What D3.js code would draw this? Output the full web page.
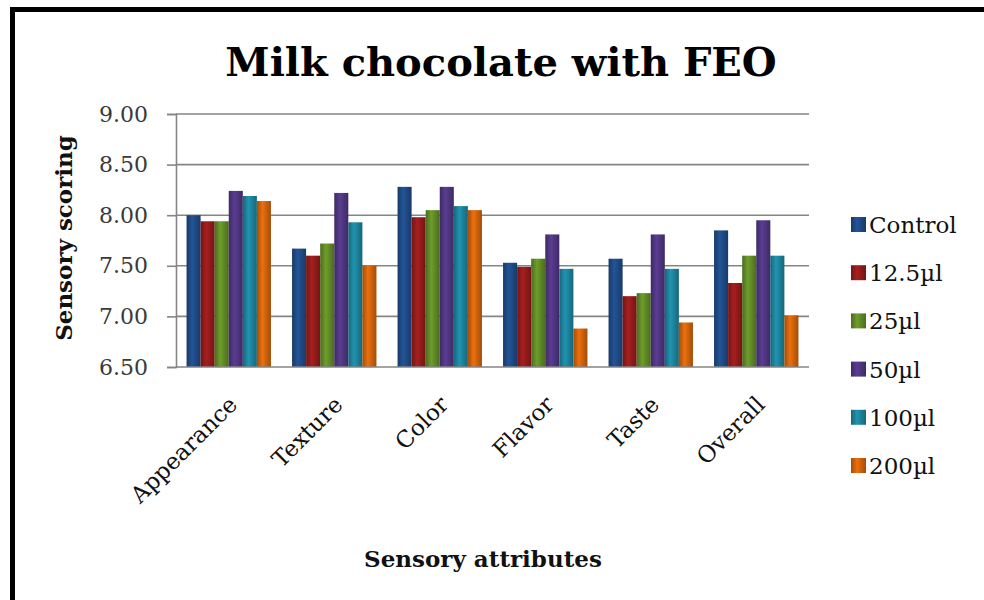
<!DOCTYPE html>
<html>
<head>
<meta charset="utf-8">
<script src="https://cdn.jsdelivr.net/npm/d3@7"></script>
<style>
  html, body { margin: 0; padding: 0; background: #fff; }
  svg { display: block; }
  text { font-family: "DejaVu Serif", "Liberation Serif", serif; }
</style>
</head>
<body>
<svg id="chart" width="984" height="600"></svg>
<script>
// Sensory scores of milk chocolate with FEO, per attribute and dose
const categories = ["Appearance", "Texture", "Color", "Flavor", "Taste", "Overall"];
const seriesNames = ["Control", "12.5\u00b5l", "25\u00b5l", "50\u00b5l", "100\u00b5l", "200\u00b5l"];
const control = [8.00, 7.67, 8.28, 7.53, 7.57, 7.85];
const dose12_5 = [7.94, 7.60, 7.98, 7.49, 7.20, 7.33];
const dose25 = [7.94, 7.72, 8.05, 7.57, 7.23, 7.60];
const dose50 = [8.24, 8.22, 8.28, 7.81, 7.81, 7.95];
const dose100 = [8.19, 7.93, 8.09, 7.47, 7.47, 7.60];
const dose200 = [8.14, 7.50, 8.05, 6.88, 6.94, 7.01];
const yTicks = [6.5, 7.0, 7.5, 8.0, 8.5, 9.0];

const seriesValues = [control, dose12_5, dose25, dose50, dose100, dose200];
const colors = ["#21508f", "#9e1d1d", "#68952a", "#553a8a", "#1f8ca8", "#df6a0d"];

const svg = d3.select("#chart");
const defs = svg.append("defs");

// cylinder-like shading for each series
colors.forEach((c, i) => {
  const g = defs.append("linearGradient").attr("id", "grad" + i)
    .attr("x1", "0%").attr("x2", "100%").attr("y1", "0%").attr("y2", "0%");
  const base = d3.color(c);
  g.append("stop").attr("offset", "0%").attr("stop-color", base.darker(0.9));
  g.append("stop").attr("offset", "40%").attr("stop-color", base.brighter(0.15));
  g.append("stop").attr("offset", "100%").attr("stop-color", base.darker(0.9));
});

const plot = { left: 176, right: 809, top: 114, bottom: 367 };

const y = d3.scaleLinear().domain([6.5, 9.0]).range([plot.bottom, plot.top]);
const x0 = d3.scaleBand().domain(categories).range([plot.left, plot.right])
  .paddingInner(0.2).paddingOuter(0.1);
const x1 = d3.scaleBand().domain(d3.range(seriesNames.length)).range([0, x0.bandwidth()]);

// frame
svg.append("rect").attr("x", 12.5).attr("y", 9.5).attr("width", 1100).attr("height", 700)
  .attr("fill", "none").attr("stroke", "#000").attr("stroke-width", 5);

// gridlines
svg.append("g").selectAll("line").data(yTicks.slice(1)).join("line")
  .attr("x1", plot.left).attr("x2", plot.right)
  .attr("y1", d => y(d)).attr("y2", d => y(d))
  .attr("stroke", "#858585").attr("stroke-width", 1.6);

// y axis
const yAxis = d3.axisLeft(y).tickValues(yTicks).tickSize(9).tickPadding(19)
  .tickFormat(d3.format(".2f"));
const yg = svg.append("g").attr("transform", `translate(${plot.left},0)`).call(yAxis);
yg.select(".domain").attr("stroke", "#858585").attr("stroke-width", 1.6);
yg.selectAll(".tick line").attr("stroke", "#858585").attr("stroke-width", 1.6);
yg.selectAll(".tick text").attr("font-size", 22).attr("fill", "#3a3a3a")
  .attr("font-family", "DejaVu Serif");

// bars
const groups = svg.append("g").selectAll("g").data(categories).join("g")
  .attr("transform", d => `translate(${x0(d)},0)`);
groups.selectAll("rect")
  .data((d, ci) => seriesValues.map((vals, si) => ({ si, v: vals[ci] })))
  .join("rect")
  .attr("x", d => x1(d.si))
  .attr("width", x1.bandwidth())
  .attr("y", d => y(d.v))
  .attr("height", d => y(6.5) - y(d.v))
  .attr("fill", d => `url(#grad${d.si})`);

// x axis baseline
svg.append("line").attr("x1", plot.left).attr("x2", plot.right)
  .attr("y1", plot.bottom).attr("y2", plot.bottom)
  .attr("stroke", "#858585").attr("stroke-width", 1.6);

// category labels, rotated
svg.append("g").selectAll("text").data(categories).join("text")
  .attr("transform", d => `translate(${x0(d) + x0.bandwidth() / 2 + 10},${plot.bottom + 39}) rotate(-45)`)
  .attr("text-anchor", "end")
  .attr("font-size", 23)
  .attr("fill", "#111")
  .text(d => d);

// title
svg.append("text").attr("x", 501).attr("y", 76).attr("text-anchor", "middle")
  .attr("font-size", 40).attr("font-weight", "bold").attr("fill", "#000")
  .text("Milk chocolate with FEO");

// axis titles
svg.append("text").attr("transform", "translate(72,238) rotate(-90)")
  .attr("text-anchor", "middle").attr("font-size", 23).attr("font-weight", "bold")
  .attr("fill", "#111").text("Sensory scoring");
svg.append("text").attr("x", 483).attr("y", 567).attr("text-anchor", "middle")
  .attr("font-size", 23).attr("font-weight", "bold").attr("fill", "#111")
  .text("Sensory attributes");

// legend
const legend = svg.append("g").selectAll("g").data(seriesNames).join("g")
  .attr("transform", (d, i) => `translate(851,${225 + i * 48.2})`);
legend.append("rect").attr("x", 0).attr("y", -8).attr("width", 15).attr("height", 15)
  .attr("fill", (d, i) => `url(#grad${i})`);
legend.append("text").attr("x", 18).attr("y", 8).attr("font-size", 23).attr("fill", "#111")
  .text(d => d);
</script>
</body>
</html>
